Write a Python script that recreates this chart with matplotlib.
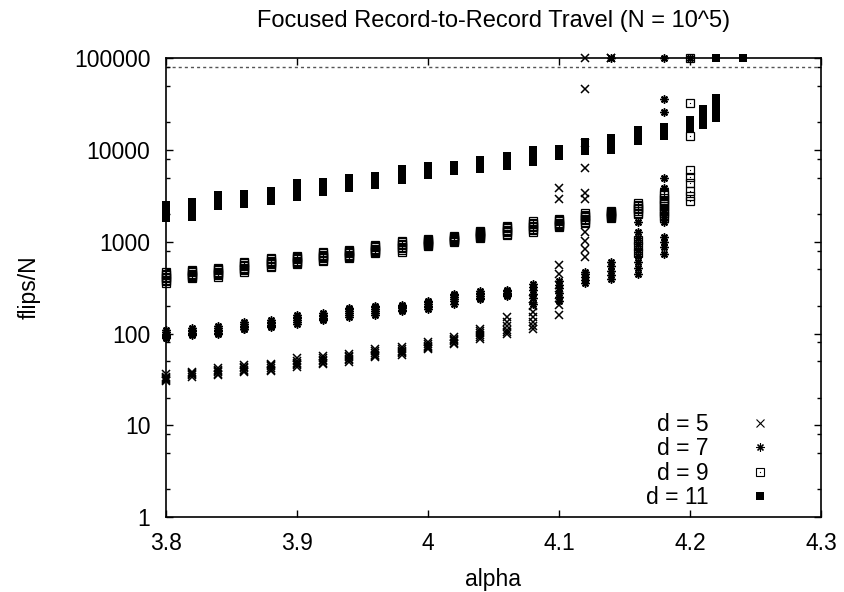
import matplotlib
matplotlib.use("Agg")
import matplotlib.pyplot as plt
from matplotlib.ticker import FixedLocator, FuncFormatter
from matplotlib.lines import Line2D

plt.rcParams['font.family'] = ['Liberation Sans', 'DejaVu Sans']

# flips/N of the individual runs, grouped by alpha (runs that hit the cap sit at 100000)
d5_alpha = [3.80, 3.82, 3.84, 3.86, 3.88, 3.90, 3.92, 3.94, 3.96, 3.98, 4.00,
            4.02, 4.04, 4.06, 4.08, 4.10, 4.12, 4.14]
d5_flips = [[36, 34, 33, 32, 31, 30], [38, 37, 36, 35, 34], [42, 40, 39, 38, 36, 35],
            [45, 43, 42, 40, 39, 38], [47, 45, 44, 42, 40, 39], [54, 50, 48, 47, 45, 43],
            [57, 54, 52, 50, 48, 47], [60, 57, 55, 53, 51, 49], [67, 64, 61, 59, 57, 55],
            [71, 68, 65, 63, 61, 59], [80, 77, 74, 72, 69, 67], [92, 88, 85, 82, 79, 76],
            [111, 106, 101, 97, 92, 88], [153, 135, 120, 110, 104, 100],
            [240, 200, 170, 150, 135, 122, 111],
            [3900, 2900, 552, 449, 336, 261, 204, 158],
            [100000, 46100, 12000, 6400, 3400, 2900, 1270, 1030, 840, 680],
            [100000, 100000]]

d7_alpha = [3.80, 3.82, 3.84, 3.86, 3.88, 3.90, 3.92, 3.94, 3.96, 3.98, 4.00,
            4.02, 4.04, 4.06, 4.08, 4.10, 4.12, 4.14, 4.16, 4.18, 4.20]
d7_flips = [[108, 103, 100, 97, 95, 92, 89], [114, 110, 106, 102, 98, 96],
            [120, 115, 110, 106, 101, 98], [132, 127, 122, 118, 113, 111],
            [139, 134, 129, 125, 120, 117], [161, 153, 146, 140, 132, 126],
            [166, 160, 154, 148, 143, 139], [192, 183, 175, 166, 158, 150],
            [202, 194, 186, 178, 168, 161], [207, 200, 194, 188, 182, 178],
            [229, 220, 210, 202, 195, 187], [272, 260, 248, 236, 224, 212],
            [290, 280, 268, 256, 245, 237], [297, 288, 280, 272, 265, 259],
            [349, 320, 295, 270, 245, 212], [377, 340, 310, 280, 250, 224],
            [471, 440, 410, 380, 358], [100000, 603, 540, 480, 430, 396],
            [1640, 1280, 1100, 950, 820, 700, 600, 520, 449],
            [100000, 36000, 25800, 4990, 3890, 2100, 1850, 1650, 1130, 1000, 870, 740],
            [100000]]

d9_alpha = [3.80, 3.82, 3.84, 3.86, 3.88, 3.90, 3.92, 3.94, 3.96, 3.98, 4.00,
            4.02, 4.04, 4.06, 4.08, 4.10, 4.12, 4.14, 4.16, 4.18, 4.20]
d9_flips = [[468, 450, 432, 415, 400, 385, 370, 356],
            [495, 480, 465, 450, 437, 424, 414, 406],
            [520, 505, 488, 472, 457, 443, 430, 416],
            [604, 583, 562, 542, 523, 505, 487, 471],
            [668, 646, 625, 605, 586, 567, 550, 534],
            [702, 682, 662, 643, 625, 607, 590, 575],
            [776, 750, 725, 702, 680, 659, 639, 620],
            [815, 792, 769, 747, 726, 706, 687, 668],
            [923, 895, 868, 843, 819, 797, 776, 757],
            [1021, 983, 948, 914, 881, 850, 815, 782],
            [1072, 1045, 1018, 993, 968, 945, 923, 902],
            [1156, 1130, 1105, 1080, 1057, 1035, 1015, 995],
            [1310, 1276, 1243, 1212, 1182, 1153, 1126, 1099],
            [1500, 1450, 1400, 1355, 1310, 1268, 1226, 1186],
            [1680, 1620, 1560, 1500, 1443, 1388, 1330, 1276],
            [1765, 1715, 1665, 1618, 1572, 1528, 1486, 1445],
            [2051, 1980, 1912, 1846, 1782, 1720, 1657, 1597],
            [2155, 2100, 2048, 1997, 1948, 1900, 1855, 1811],
            [2630, 2530, 2435, 2340, 2250, 2160, 2075, 1995, 1050, 900, 760],
            [3370, 3200, 3030, 2870, 2720, 2570, 2430, 2300, 2170, 2040, 1920, 1811],
            [100000, 32400, 14060, 6030, 5120, 4330, 3570, 3160, 2790]]

d11_alpha = [3.80, 3.82, 3.84, 3.86, 3.88, 3.90, 3.92, 3.94, 3.96, 3.98, 4.00,
             4.02, 4.04, 4.06, 4.08, 4.10, 4.12, 4.14, 4.16, 4.18, 4.20, 4.21, 4.22, 4.24]
d11_flips = [[2520, 2300, 2100, 1950, 1800], [2700, 2450, 2200, 2000, 1870],
             [3207, 3000, 2800, 2600, 2460], [3290, 3050, 2850, 2700, 2580],
             [3600, 3350, 3150, 2950, 2790], [4330, 3950, 3600, 3300, 3055],
             [4440, 4150, 3900, 3650, 3480], [4900, 4550, 4250, 4000, 3850],
             [5150, 4850, 4550, 4300, 4120], [6140, 5700, 5300, 4950, 4700],
             [6670, 6300, 6000, 5650, 5380], [6950, 6650, 6350, 6050, 5840],
             [7740, 7300, 6900, 6500, 6140], [8700, 8100, 7500, 7000, 6670],
             [9930, 9200, 8500, 7900, 7480], [10350, 9800, 9300, 8850, 8550],
             [12330, 11600, 11000, 10400, 9860], [13620, 12600, 11700, 10800, 10090],
             [16630, 15300, 14200, 13300, 12650], [17920, 16800, 15800, 14800, 14070],
             [21300, 20000, 18800, 17800, 16900], [28050, 25000, 22500, 20400, 18700],
             [100000, 36870, 32000, 28000, 25000, 22600], [100000]]

flip_cap = 80000
x_ticks = [3.8, 3.9, 4.0, 4.1, 4.2, 4.3]
y_ticks = [1, 10, 100, 1000, 10000, 100000]


def flatten(alphas, groups):
    xs, ys = [], []
    for a, g in zip(alphas, groups):
        xs += [a] * len(g)
        ys += g
    return xs, ys


fig = plt.figure(figsize=(8.45, 5.92), dpi=100)
ax = fig.add_axes([0.196, 0.1267, 0.7758, 0.7748])

fs = 16.5
ms = 5.8
x5, y5 = flatten(d5_alpha, d5_flips)
x7, y7 = flatten(d7_alpha, d7_flips)
x9, y9 = flatten(d9_alpha, d9_flips)
x11, y11 = flatten(d11_alpha, d11_flips)

ax.plot(x5, y5, ls='none', marker='x', ms=ms, mew=1.1, color='black', clip_on=False, zorder=3)
ax.plot(x7, y7, ls='none', marker=(8, 2, 0), ms=ms, mew=1.1, color='black', clip_on=False, zorder=3)
ax.plot(x9, y9, ls='none', marker='s', ms=ms, mew=0.9, mfc='none', color='black', clip_on=False, zorder=3)
ax.plot(x9, y9, ls='none', marker='s', ms=0.8, mew=0, color='black', clip_on=False, zorder=3)
ax.plot(x11, y11, ls='none', marker='s', ms=ms, mew=0, color='black', clip_on=False, zorder=3)

# dotted reference line near the top
ax.axhline(flip_cap, color='#555555', lw=1.0, ls=(0, (2.2, 2.2)), zorder=1)

ax.set_yscale('log')
ax.set_xlim(3.8, 4.3)
ax.set_ylim(1, 100000)
ax.xaxis.set_major_locator(FixedLocator(x_ticks))
ax.xaxis.set_major_formatter(FuncFormatter(lambda v, p: '%g' % v))
ax.yaxis.set_major_locator(FixedLocator(y_ticks))
ax.yaxis.set_major_formatter(FuncFormatter(lambda v, p: '%d' % v))
ax.yaxis.set_minor_locator(FixedLocator([m * 10 ** k for k in range(5) for m in (2, 5, 8)]))
ax.xaxis.set_minor_locator(FixedLocator([]))

ax.tick_params(which='both', direction='in', top=True, right=True, width=1.0, labelsize=fs)
ax.tick_params(which='major', length=5, pad=11)
ax.tick_params(which='minor', length=2.8)
for s in ax.spines.values():
    s.set_linewidth(1.2)

ax.set_title('Focused Record-to-Record Travel (N = 10^5)', fontsize=17, y=1.05)
ax.set_xlabel('alpha', fontsize=fs)
ax.set_ylabel('flips/N', fontsize=fs)
ax.xaxis.set_label_coords(0.5, -0.112)
ax.yaxis.set_label_coords(-0.19, 0.5)

# legend: text right-aligned, symbol on the right (gnuplot style)
box = Line2D([], [], ls='none', marker='s', ms=ms, mew=0.8, mfc='none', color='black')
dot = Line2D([], [], ls='none', marker='s', ms=0.8, mew=0, color='black')
handles = [
    Line2D([], [], ls='none', marker='x', ms=ms, mew=0.8, color='black'),
    Line2D([], [], ls='none', marker=(8, 2, 0), ms=ms, mew=0.8, color='black'),
    (box, dot),
    Line2D([], [], ls='none', marker='s', ms=ms, mew=0, color='black'),
]
ax.legend(handles, ['d = 5', 'd = 7', 'd = 9', 'd = 11'], loc='lower right',
          bbox_to_anchor=(0.957, -0.017), frameon=False, markerfirst=False,
          fontsize=fs, handlelength=1.5, handletextpad=1.5, labelspacing=0.05,
          borderpad=0.2)

fig.savefig('out.png', dpi=100)
